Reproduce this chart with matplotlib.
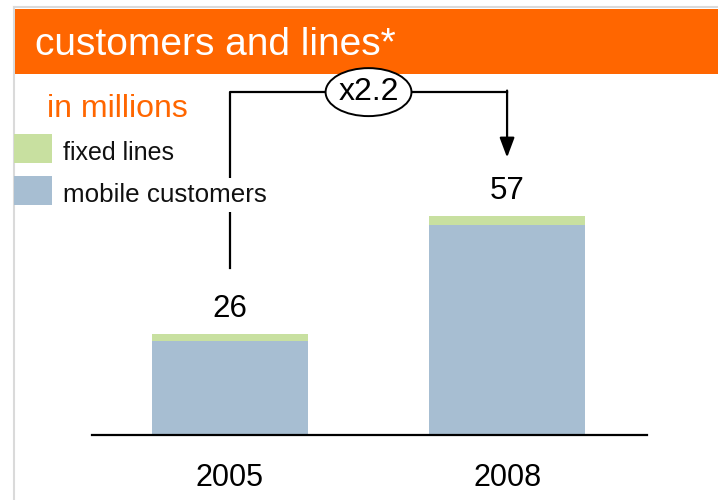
import matplotlib
matplotlib.use("Agg")
import matplotlib.pyplot as plt
from matplotlib.patches import Rectangle, Ellipse
from matplotlib.lines import Line2D

plt.rcParams['font.family'] = ['Liberation Sans', 'DejaVu Sans']

# data (millions)
years = ['2005', '2008']
mobile = [24.3, 54.3]
fixed = [1.8, 2.4]
totals = ['26', '57']
growth = 'x2.2'

orange = '#FF6600'
green = '#C8E0A0'
blue = '#A7BED2'

W, H = 718, 500
fig = plt.figure(figsize=(W / 100, H / 100), dpi=100)

def fx(px):
    return px / W

def fy(py):
    return 1 - py / H

# frame and title band
fig.add_artist(Line2D([fx(14), fx(14)], [fy(7), 0], color='#DADADA', lw=1.5, zorder=-2))
fig.add_artist(Line2D([fx(14), 1], [fy(7), fy(7)], color='#DADADA', lw=1.5, zorder=-2))
fig.add_artist(Rectangle((fx(15), fy(74)), 1 - fx(15), fy(9) - fy(74),
                         transform=fig.transFigure, facecolor=orange, edgecolor='none', zorder=-1))
fig.text(fx(35), fy(55), 'customers and lines*', color='white', fontsize=28, va='baseline')
fig.text(fx(47), fy(117), 'in millions', color=orange, fontsize=23, va='baseline')

# legend
fig.add_artist(Rectangle((fx(14), fy(163)), fx(38), 29 / H, transform=fig.transFigure,
                         facecolor=green, edgecolor='none'))
fig.add_artist(Rectangle((fx(14), fy(205)), fx(38), 29 / H, transform=fig.transFigure,
                         facecolor=blue, edgecolor='none'))
fig.text(fx(63), fy(160), 'fixed lines', fontsize=18, va='baseline', color='#111111')
fig.text(fx(63), fy(202), 'mobile customers', fontsize=18.7, va='baseline', color='#111111',
         zorder=5, bbox=dict(boxstyle='square,pad=0.2', facecolor='white', edgecolor='none'))

# bar axes: baseline at y=435px, 3.87 px per million
ax = fig.add_axes([fx(92), fy(435), fx(647 - 92), 387 / H])
ax.set_facecolor('none')
x = [0, 1]
width = 0.563
ax.bar(x, mobile, width=width, color=blue, zorder=2)
ax.bar(x, fixed, width=width, bottom=mobile, color=green, zorder=2)
for xi, m, f, lab in zip(x, mobile, fixed, totals):
    ax.annotate(lab, (xi, m + f), xytext=(0, 12), textcoords='offset points',
                ha='center', va='baseline', fontsize=22.5)

ax.set_xlim(-0.498, 1.505)
ax.set_ylim(0, 100)
ax.set_xticks(x)
ax.set_xticklabels(years, fontsize=22)
ax.tick_params(axis='x', length=0, pad=20)
ax.set_yticks([])
for s in ['left', 'right', 'top']:
    ax.spines[s].set_visible(False)
ax.spines['bottom'].set_linewidth(1.6)
ax.spines['bottom'].set_color('black')

# growth bracket
top_y = 88.6
left_bottom = mobile[0] + fixed[0] + 17
tip = mobile[1] + fixed[1] + 15
ax.plot([0, 0, 1], [left_bottom, top_y, top_y], color='black', lw=1.6, clip_on=False, zorder=3)
ax.annotate('', xy=(1, tip), xytext=(1, top_y + 0.4),
            arrowprops=dict(arrowstyle='-|>,head_length=1.2,head_width=0.45', color='black',
                            lw=1.6, shrinkA=0, shrinkB=0, mutation_scale=10),
            annotation_clip=False, zorder=3)
ax.add_patch(Ellipse((0.5, top_y), 0.31, 12.4, facecolor='white', edgecolor='black',
                     lw=1.4, clip_on=False, zorder=4))
ax.text(0.5, top_y, growth, ha='center', va='center', fontsize=23, zorder=5)

fig.savefig('out.png', dpi=100)
